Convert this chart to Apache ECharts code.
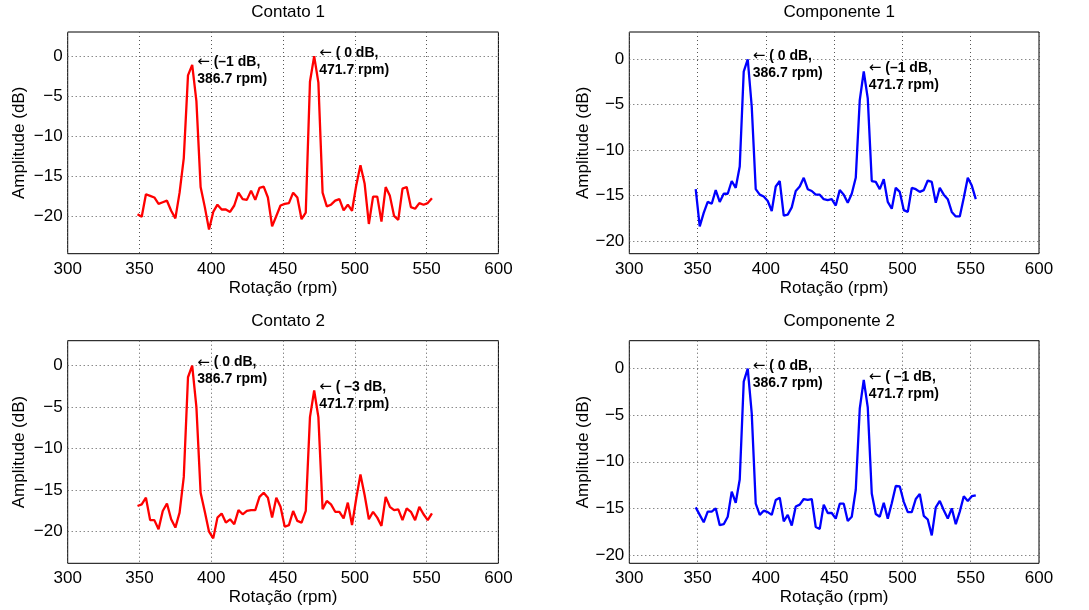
<!DOCTYPE html>
<html>
<head>
<meta charset="utf-8">
<script src="https://cdn.jsdelivr.net/npm/echarts@6/dist/echarts.min.js"></script>
<style>
html,body{margin:0;padding:0;background:#fff;}
#c{width:1089px;height:610px;}
</style>
</head>
<body>
<div id="c"></div>
<script>
// Rotation axis (rpm) shared by all four spectra
const rpm = [348.63, 351.56, 354.49, 357.42, 360.35, 363.28, 366.21, 369.14, 372.07, 375.00,
  377.93, 380.86, 383.79, 386.72, 389.65, 392.58, 395.51, 398.44, 401.37, 404.30,
  407.23, 410.16, 413.09, 416.02, 418.95, 421.88, 424.80, 427.73, 430.66, 433.59,
  436.52, 439.45, 442.38, 445.31, 448.24, 451.17, 454.10, 457.03, 459.96, 462.89,
  465.82, 468.75, 471.68, 474.61, 477.54, 480.47, 483.40, 486.33, 489.26, 492.19,
  495.12, 498.05, 500.98, 503.91, 506.84, 509.77, 512.70, 515.63, 518.55, 521.48,
  524.41, 527.34, 530.27, 533.20, 536.13, 539.06, 541.99, 544.92, 547.85, 550.78, 553.71];

const contato1 = [-19.7, -20.0, -17.2, -17.4, -17.6, -18.4, -18.2, -18.0, -19.25, -20.2,
  -17.0, -12.7, -2.4, -1.1, -5.6, -16.3, -18.8, -21.6, -19.4, -18.5,
  -19.1, -19.1, -19.4, -18.6, -17.0, -17.8, -17.9, -16.75, -17.9, -16.4,
  -16.25, -17.6, -21.2, -19.9, -18.6, -18.4, -18.3, -17.0, -17.6, -20.3,
  -19.5, -3.2, 0, -3.3, -17.0, -18.7, -18.5, -18.0, -17.8, -19.2,
  -18.5, -19.25, -16.1, -13.6, -15.9, -20.9, -17.5, -17.5, -20.6, -16.3,
  -17.4, -19.9, -20.4, -16.5, -16.3, -18.8, -19.0, -18.3, -18.5, -18.3, -17.7];

const componente1 = [-14.3, -18.4, -16.9, -15.7, -15.9, -14.4, -15.7, -14.8, -14.8, -13.4,
  -14.15, -11.8, -1.35, 0, -5.2, -14.3, -14.9, -15.1, -15.6, -16.7,
  -14.0, -13.4, -17.2, -17.1, -16.3, -14.5, -14.0, -13.05, -14.3, -14.5,
  -14.9, -14.9, -15.4, -15.5, -15.4, -16.1, -14.4, -14.9, -15.8, -14.8,
  -13.05, -4.5, -1.35, -4.3, -13.4, -13.5, -14.3, -13.2, -15.7, -16.45,
  -14.15, -14.6, -16.6, -16.8, -14.15, -14.3, -14.6, -14.4, -13.35, -13.5,
  -15.8, -14.15, -14.9, -15.4, -16.8, -17.3, -17.3, -15.25, -13.05, -13.9, -15.4];

const contato2 = [-16.9, -16.7, -15.9, -18.6, -18.6, -19.7, -17.5, -16.6, -18.5, -19.5,
  -17.7, -13.4, -1.4, 0, -5.0, -15.3, -17.6, -20.0, -20.8, -18.3,
  -17.8, -18.9, -18.5, -19.1, -17.4, -17.9, -17.5, -17.4, -17.4, -15.8,
  -15.3, -15.9, -18.3, -15.9, -17.0, -19.4, -19.2, -17.5, -18.7, -18.9,
  -17.5, -6.2, -3.0, -6.2, -17.3, -16.3, -16.7, -17.6, -17.6, -18.4,
  -16.5, -19.2, -16.0, -13.1, -15.6, -18.5, -17.6, -18.3, -19.3, -15.8,
  -17.0, -17.4, -17.3, -18.6, -17.2, -17.6, -18.6, -17.0, -17.9, -18.6, -17.8];

const componente2 = [-14.9, -15.7, -16.5, -15.35, -15.35, -15.0, -16.8, -16.7, -15.9, -13.2,
  -14.4, -11.9, -1.4, 0, -4.8, -14.5, -15.7, -15.25, -15.4, -15.7,
  -14.1, -13.85, -16.4, -15.7, -16.85, -14.8, -14.6, -14.0, -14.1, -14.0,
  -17.0, -17.2, -14.6, -15.5, -15.5, -16.1, -14.5, -14.5, -16.35, -15.9,
  -13.0, -4.3, -1.2, -4.15, -13.4, -15.6, -15.9, -14.4, -16.1, -14.45,
  -12.6, -12.65, -14.3, -15.4, -15.4, -14.0, -13.45, -15.8, -16.2, -17.9,
  -14.9, -14.2, -15.2, -16.1, -15.0, -16.7, -15.35, -13.7, -14.2, -13.7, -13.6];

const titles = ['Contato 1', 'Componente 1', 'Contato 2', 'Componente 2'];
const yTicks = [0, -5, -10, -15, -20];
const peakIdx = [13, 42];
const annContato1 = [['(\u20131 dB,', '386.7 rpm)'], ['( 0 dB,', '471.7 rpm)']];
const annComponente1 = [['( 0 dB,', '386.7 rpm)'], ['(\u20131 dB,', '471.7 rpm)']];
const annContato2 = [['( 0 dB,', '386.7 rpm)'], ['( \u20133 dB,', '471.7 rpm)']];
const annComponente2 = [['( 0 dB,', '386.7 rpm)'], ['( \u20131 dB,', '471.7 rpm)']];

const FONT = '"Liberation Sans", Arial, Helvetica, sans-serif';
const panels = [
  {data: contato1, color: '#ff0000', ann: annContato1, grid: {left: 67.7, top: 32, width: 430.7, height: 221.7}},
  {data: componente1, color: '#0000ff', ann: annComponente1, grid: {left: 629.3, top: 32, width: 409.7, height: 221.7}},
  {data: contato2, color: '#ff0000', ann: annContato2, grid: {left: 67.7, top: 340.7, width: 430.7, height: 222.6}},
  {data: componente2, color: '#0000ff', ann: annComponente2, grid: {left: 629.3, top: 340.7, width: 409.7, height: 222.6}}
];

const chart = echarts.init(document.getElementById('c'), null, {renderer: 'canvas'});
const option = {
  animation: false,
  backgroundColor: '#fff',
  title: [], grid: [], xAxis: [], yAxis: [], series: []
};

const gridLine = {show: true, lineStyle: {color: '#555', width: 1, type: [1, 3]}};
const minusFmt = v => (v < 0 ? '\u2212' + Math.abs(v) : String(v));

panels.forEach((p, i) => {
  const g = p.grid;
  option.grid.push({left: g.left, top: g.top, width: g.width, height: g.height,
    show: true, borderColor: '#000', borderWidth: 1, backgroundColor: 'transparent',
    containLabel: false, outerBoundsMode: 'none'});
  option.title.push({text: titles[i], left: g.left + g.width / 2, top: g.top - 33, textAlign: 'center',
    textStyle: {fontFamily: FONT, fontSize: 17, fontWeight: 'normal', color: '#000'}});
  const yMin = Math.min(...p.data) - 3;
  const yMax = Math.max(...p.data) + 3;
  option.xAxis.push({gridIndex: i, type: 'value', min: 300, max: 600, interval: 50,
    axisLine: {show: false}, axisTick: {show: false}, splitLine: gridLine,
    axisLabel: {color: '#000', fontFamily: FONT, fontSize: 17, margin: 7},
    name: 'Rota\u00e7\u00e3o (rpm)', nameLocation: 'middle', nameGap: 26,
    nameTextStyle: {color: '#000', fontFamily: FONT, fontSize: 17}});
  option.yAxis.push({gridIndex: i, type: 'value', min: yMin, max: yMax,
    axisLine: {show: false}, axisTick: {show: false, customValues: yTicks}, splitLine: gridLine,
    axisLabel: {color: '#000', fontFamily: FONT, fontSize: 17, margin: 5, customValues: yTicks, formatter: minusFmt},
    name: 'Amplitude (dB)', nameLocation: 'middle', nameGap: i % 2 === 0 ? 40 : 37.5,
    nameTextStyle: {color: '#000', fontFamily: FONT, fontSize: 17}});
  option.series.push({
    type: 'line', xAxisIndex: i, yAxisIndex: i,
    data: rpm.map((x, k) => [x, p.data[k]]),
    showSymbol: false, symbol: 'none', silent: true,
    lineStyle: {color: p.color, width: 2.3},
    markPoint: {
      symbol: 'circle', symbolSize: 1, silent: true,
      itemStyle: {color: 'rgba(0,0,0,0)'},
      label: {show: true, position: 'right', distance: 4.5, offset: [0, 5.5], color: '#000',
        rich: {
          arr: {fontFamily: '"DejaVu Sans", sans-serif', fontSize: 15, fontWeight: 'normal', color: '#000', lineHeight: 17},
          b: {fontFamily: FONT, fontSize: 14, fontWeight: 'bold', color: '#000', lineHeight: 17}
        }},
      data: peakIdx.map((k, j) => ({
        coord: [rpm[k], p.data[k]],
        label: {formatter: '{arr|\u2190}{b| ' + p.ann[j][0] + '}\n{b|' + p.ann[j][1] + '}'}
      }))
    }
  });
});

chart.setOption(option);
</script>
</body>
</html>
